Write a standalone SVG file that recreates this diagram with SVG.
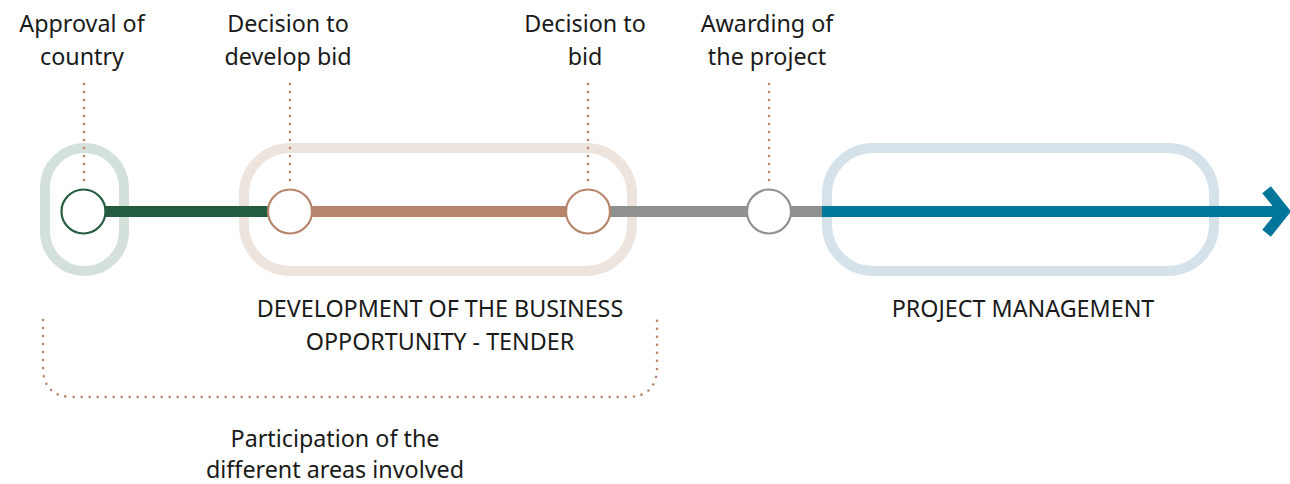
<svg xmlns="http://www.w3.org/2000/svg" width="1290" height="484" viewBox="0 0 1290 484">
<style>
text{font-family:"Noto Sans","Open Sans","DejaVu Sans",sans-serif;font-size:23.3px;fill:#1a1a1a;text-anchor:middle}
.pill{fill:none;stroke-width:10}
.dots{fill:none;stroke:#b5846a;stroke-width:2.6;stroke-linecap:round;stroke-dasharray:0 8}
.seg{fill:none;stroke-width:11}
.node{fill:#fff;stroke-width:2.2}
</style>
<rect width="1290" height="484" fill="#fff"/>
<g id="phases">
<g id="phase-approval"><rect class="pill" x="45" y="148" width="79" height="123" rx="39.5" stroke="#d4e0da"/></g>
<g id="phase-development"><rect class="pill" x="244" y="148" width="388" height="123" rx="46" stroke="#ede4de"/>
<text x="440" y="317">DEVELOPMENT OF THE BUSINESS</text><text x="440" y="350">OPPORTUNITY - TENDER</text></g>
<g id="phase-management"><rect class="pill" x="827" y="148" width="387" height="123" rx="46" stroke="#d6e2ea"/>
<text x="1023" y="317">PROJECT MANAGEMENT</text></g>
</g>
<g id="connectors">
<line class="seg" x1="105" y1="211.5" x2="270" y2="211.5" stroke="#235c3f"/>
<line class="seg" x1="310" y1="211.5" x2="568" y2="211.5" stroke="#b5846a"/>
<line class="seg" x1="608" y1="211.5" x2="822" y2="211.5" stroke="#8e918f"/>
<line class="seg" x1="822" y1="211.5" x2="1282" y2="211.5" stroke="#00779a"/>
<polyline points="1270,194 1284,211.5 1270,229" fill="none" stroke="#00779a" stroke-width="11" stroke-linecap="square"/>
<path class="dots" d="M84,84 V184"/>
<path class="dots" d="M290,84 V184"/>
<path class="dots" d="M588,84 V184"/>
<path class="dots" d="M769,84 V184"/>
<path class="dots" d="M43,320 V367 Q43,397 73,397 H627 Q657,397 657,367 V320"/>
</g>
<g id="node-approval"><circle class="node" cx="83.5" cy="211.5" r="22" stroke="#235c3f"/>
<text x="82" y="32">Approval of</text><text x="82" y="65">country</text></g>
<g id="node-develop"><circle class="node" cx="290" cy="211.5" r="22" stroke="#b5846a"/>
<text x="288" y="32">Decision to</text><text x="288" y="65">develop bid</text></g>
<g id="node-bid"><circle class="node" cx="588" cy="211.5" r="22" stroke="#b5846a"/>
<text x="585" y="32">Decision to</text><text x="585" y="65">bid</text></g>
<g id="node-award"><circle class="node" cx="769" cy="211.5" r="22" stroke="#8e918f"/>
<text x="767" y="32">Awarding of</text><text x="767" y="65">the project</text></g>
<g id="note-participation">
<text x="335" y="447">Participation of the</text><text x="335" y="478">different areas involved</text></g>
</svg>
